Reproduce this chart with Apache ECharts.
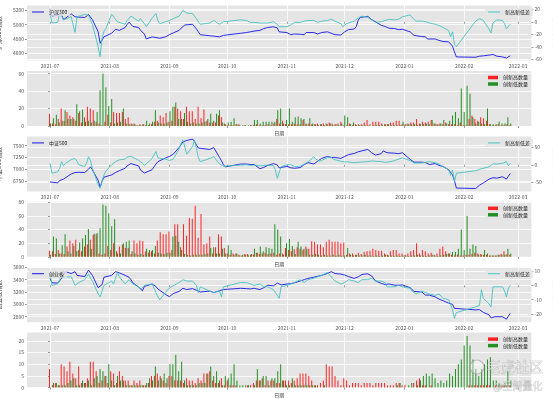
<!DOCTYPE html>
<html>
<head>
<meta charset="utf-8">
<script src="https://cdn.jsdelivr.net/npm/echarts@6/dist/echarts.min.js"></script>
<style>
html, body { margin: 0; padding: 0; background: #fff; }
#chart { width: 553px; height: 399px; }
</style>
</head>
<body>
<div id="chart"></div>
<script>
const FONT = 'Noto Sans CJK SC';

// trading days shown on the x axis
const tradeDays = [
  '2021-07-01','2021-07-02','2021-07-05','2021-07-06','2021-07-07','2021-07-08','2021-07-09','2021-07-12','2021-07-13','2021-07-14','2021-07-15','2021-07-16','2021-07-19','2021-07-20','2021-07-21','2021-07-22','2021-07-23','2021-07-26','2021-07-27','2021-07-28','2021-07-29','2021-07-30',
  '2021-08-02','2021-08-03','2021-08-04','2021-08-05','2021-08-06','2021-08-09','2021-08-10','2021-08-11','2021-08-12','2021-08-13','2021-08-16','2021-08-17','2021-08-18','2021-08-19','2021-08-20','2021-08-23','2021-08-24','2021-08-25','2021-08-26','2021-08-27','2021-08-30','2021-08-31',
  '2021-09-01','2021-09-02','2021-09-03','2021-09-06','2021-09-07','2021-09-08','2021-09-09','2021-09-10','2021-09-13','2021-09-14','2021-09-15','2021-09-16','2021-09-17','2021-09-22','2021-09-23','2021-09-24','2021-09-27','2021-09-28','2021-09-29','2021-09-30',
  '2021-10-08','2021-10-11','2021-10-12','2021-10-13','2021-10-14','2021-10-15','2021-10-18','2021-10-19','2021-10-20','2021-10-21','2021-10-22','2021-10-25','2021-10-26','2021-10-27','2021-10-28','2021-10-29',
  '2021-11-01','2021-11-02','2021-11-03','2021-11-04','2021-11-05','2021-11-08','2021-11-09','2021-11-10','2021-11-11','2021-11-12','2021-11-15','2021-11-16','2021-11-17','2021-11-18','2021-11-19','2021-11-22','2021-11-23','2021-11-24','2021-11-25','2021-11-26','2021-11-29','2021-11-30',
  '2021-12-01','2021-12-02','2021-12-03','2021-12-06','2021-12-07','2021-12-08','2021-12-09','2021-12-10','2021-12-13','2021-12-14','2021-12-15','2021-12-16','2021-12-17','2021-12-20','2021-12-21','2021-12-22','2021-12-23','2021-12-24','2021-12-27','2021-12-28','2021-12-29','2021-12-30','2021-12-31',
  '2022-01-04','2022-01-05','2022-01-06','2022-01-07','2022-01-10','2022-01-11','2022-01-12','2022-01-13','2022-01-14','2022-01-17','2022-01-18','2022-01-19','2022-01-20','2022-01-21','2022-01-24','2022-01-25','2022-01-26','2022-01-27','2022-01-28',
  '2022-02-07','2022-02-08','2022-02-09','2022-02-10','2022-02-11','2022-02-14','2022-02-15','2022-02-16','2022-02-17','2022-02-18','2022-02-21','2022-02-22','2022-02-23','2022-02-24','2022-02-25'
];
const monthTicks = ['2021-07','2021-08','2021-09','2021-10','2021-11','2021-12','2022-01','2022-02','2022-03'];

// 沪深300
const hs300Index = [
  5224,5121,5135,5130,5140,5070,5069,5150,5160,5110,5120,5105,5100,5090,5140,5162,5070,4900,4740,4760,4830,4810,
  4880,4890,4935,4925,4920,4960,5000,5035,5010,4975,4960,4920,4925,4870,4800,4830,4815,4820,4800,4810,4830,4845,
  4860,4875,4885,4920,4950,4970,4995,5010,5005,4990,4940,4900,4860,4845,4850,4840,4830,4845,4850,4860,
  4880,4890,4895,4900,4905,4910,4920,4935,4945,4950,4960,4970,4975,4955,4900,4910,
  4890,4870,4860,4880,4870,4865,4875,4860,4890,4895,4890,4880,4870,4875,4890,4900,4890,4880,4870,4860,4855,4870,
  4900,4910,4930,4940,4970,5060,5100,5110,5115,5090,5070,5075,5040,4990,4970,4975,4965,4950,4945,4935,4930,4925,4935,
  4900,4880,4850,4840,4835,4820,4830,4800,4795,4800,4810,4780,4770,4765,4760,4740,4700,4620,4550,
  4545,4550,4560,4570,4565,4575,4590,4585,4570,4560,4550,4545,4535,4540,4565
];
const hs300Diff = [
  13,-2,-1,15,14,3,1,8,-5,-17,8,5,12,14,10,7,-4,-40,-56,-27,-15,-11,
  12,8,5,0,-2,-4,2,3,9,8,1,5,4,-3,-8,6,9,13,2,-3,0,-1,
  2,4,5,9,12,18,21,14,13,12,5,0,-4,-2,1,2,-4,-3,0,1,
  3,2,0,-1,0,-1,-2,-3,-2,-3,-2,0,1,-4,-8,-6,
  -8,-7,-5,-3,-1,-1,0,1,2,2,2,1,-1,-1,1,2,3,4,4,1,-3,-8,
  -6,-3,-1,1,3,6,8,9,7,4,3,1,-1,0,0,2,3,4,3,2,4,7,8,
  11,7,4,1,1,2,0,-1,-2,-4,-4,-6,-8,-9,-14,-24,-16,-36,-40,
  1,4,5,3,2,-12,-18,-2,-1,3,2,-3,-11,-8,-4
];
const hs300High = [
  14,3,2,8,20,6,16,12,10,6,15,4,10,22,20,18,5,3,1,5,13,4,
  16,15,15,16,8,10,3,3,1,2,2,1,1,2,5,6,12,10,15,5,6,22,
  20,17,8,22,17,17,8,22,9,19,6,4,4,4,12,10,3,1,1,1,
  2,2,0,1,0,1,1,2,1,1,1,2,1,3,8,3,
  6,2,2,2,3,2,2,7,3,3,2,2,3,2,3,3,4,3,2,3,5,1,
  1,3,1,2,2,2,4,7,2,5,5,5,3,2,2,4,4,6,6,2,2,3,4,
  4,8,3,5,4,5,7,3,2,3,2,4,2,2,2,1,4,1,1,
  8,12,8,6,10,9,6,2,1,1,2,1,1,2,1
];
const hs300Low = [
  3,9,13,4,6,18,8,8,8,25,17,19,5,6,4,6,16,41,60,44,23,31,
  3,4,5,20,3,2,2,2,1,1,2,6,3,5,18,4,3,3,4,17,22,27,
  8,8,15,5,3,4,3,3,4,5,8,14,6,14,18,4,2,4,5,9,
  2,1,1,1,1,1,7,7,3,5,5,5,5,5,18,20,
  3,7,20,5,10,11,9,8,2,9,3,2,1,2,1,2,3,1,2,1,3,12,
  10,2,4,1,1,1,1,1,0,1,1,1,1,2,2,1,1,1,1,5,2,2,2,
  2,1,2,2,3,2,7,3,2,3,7,3,6,12,16,9,43,16,46,
  37,10,3,5,3,2,20,2,2,2,5,3,3,10,3
];

// 中证500
const zz500Index = [
  6730,6700,6710,6760,6770,6790,6810,6900,6920,6930,6940,6935,6930,6945,7000,7050,6990,6760,6620,6740,6830,6850,
  6880,6910,6930,6945,6970,7020,7070,7110,7120,7115,7070,6980,6940,6920,6905,6990,7050,7110,7160,7190,7240,7255,
  7270,7300,7320,7460,7520,7580,7600,7610,7640,7590,7520,7450,7410,7420,7440,7460,7250,7180,7100,7050,
  7110,7110,7105,7100,7110,7100,7010,7000,7040,7060,7080,7120,7120,7090,7030,7050,
  7060,7050,7030,7040,7020,7035,7050,7100,7130,7140,7110,7140,7170,7200,7230,7270,7260,7250,7260,7250,7230,7250,
  7270,7300,7310,7335,7350,7370,7360,7390,7420,7440,7350,7380,7300,7330,7390,7410,7350,7320,7340,7320,7330,7340,7350,
  7210,7180,7150,7160,7150,7120,7140,7110,7100,7120,7110,7080,7050,7060,6990,6930,6880,6760,6600,
  6590,6620,6660,6690,6710,6790,6770,6820,6800,6810,6840,6830,6790,6850,6910
];
const zz500Diff = [
  4,-24,-20,-10,9,-3,4,15,19,18,10,0,-5,5,23,12,-10,-57,-67,-47,-29,-18,
  0,4,9,12,14,16,22,27,24,19,13,9,4,-2,-5,18,28,38,20,17,16,12,
  12,14,16,45,60,71,74,30,52,71,47,20,9,18,22,23,2,-1,-4,-2,
  -1,0,-1,-2,0,-1,-3,-5,-2,0,-1,-2,-15,-39,-36,-5,
  0,-4,0,-2,-5,-4,0,2,4,8,23,16,12,10,14,20,24,22,16,14,10,8,
  8,7,8,6,5,7,6,8,9,10,11,12,10,9,8,7,6,8,12,14,16,19,20,
  12,8,5,4,5,6,7,8,9,6,4,2,0,-5,-14,-30,-15,-48,-24,
  -17,-15,-13,-12,-10,-6,-3,3,0,2,4,6,9,-3,4
];
const zz500High = [
  9,8,4,10,5,4,15,24,20,25,10,8,15,18,25,32,33,5,3,5,16,10,
  20,8,15,18,13,13,4,24,20,24,23,8,6,8,5,24,36,33,33,37,10,48,
  48,14,48,31,57,56,75,28,63,18,20,30,5,14,33,30,13,5,3,5,
  5,3,2,4,4,3,3,6,4,5,6,4,5,6,3,5,
  5,13,10,8,11,14,12,10,15,12,23,22,18,18,14,22,25,22,22,22,20,21,
  3,5,5,3,6,4,7,8,9,12,10,9,9,5,3,8,10,10,5,5,3,5,8,
  10,20,5,10,8,5,6,3,5,12,15,8,5,3,2,3,2,2,3,
  3,4,6,5,4,3,3,2,2,2,3,4,8,4,3
];
const zz500Low = [
  3,30,27,5,17,33,8,5,16,8,21,27,32,41,12,34,35,42,77,75,64,45,
  55,5,5,20,22,24,8,5,3,4,3,12,10,10,16,6,5,4,6,6,30,31,
  22,10,4,3,2,3,3,3,3,4,5,13,14,5,5,12,5,17,10,3,
  5,2,3,3,2,4,12,6,15,8,14,13,12,48,40,30,
  3,20,26,16,4,22,15,12,12,3,3,4,3,2,3,2,2,3,2,3,2,2,
  13,3,2,3,2,2,3,2,2,1,2,1,2,3,2,2,1,2,1,2,2,1,2,
  2,3,2,2,1,2,3,2,1,2,3,4,5,7,7,12,40,10,60,
  12,18,16,3,3,10,5,2,2,2,3,3,3,12,5
];

// 创业板
const cybIndex = [
  3420,3350,3345,3350,3420,3470,3530,3500,3490,3530,3470,3450,3450,3475,3555,3550,3470,3270,3245,3320,3440,3460,
  3470,3490,3530,3555,3510,3470,3460,3440,3400,3350,3280,3250,3220,3290,3260,3330,3320,3290,3250,3230,3160,3140,
  3125,3150,3175,3210,3240,3260,3250,3240,3255,3240,3230,3210,3200,3215,3205,3190,3220,3250,3240,3260,
  3260,3255,3260,3250,3255,3260,3240,3210,3270,3300,3310,3300,3330,3345,3320,3315,
  3330,3340,3335,3345,3350,3380,3385,3400,3415,3420,3440,3450,3455,3460,3470,3500,3515,3530,3520,3500,3490,3480,
  3475,3460,3450,3420,3430,3445,3470,3485,3495,3490,3460,3430,3380,3340,3330,3320,3325,3330,3310,3300,3310,3315,3314,
  3270,3240,3210,3190,3200,3170,3150,3145,3150,3120,3100,3085,3090,3060,3020,2990,3000,2935,2915,
  2910,2905,2915,2890,2870,2830,2780,2790,2800,2805,2800,2790,2760,2810,2855
];
const cybDiff = [
  9,0,1,4,9,6,7,6,7,0,1,2,4,6,8,5,3,-6,-8,-4,0,1,
  3,1,5,9,6,1,2,4,3,1,-1,-3,-2,0,1,1,-2,-5,-8,-10,-5,-3,
  -3,-1,0,2,3,4,3,3,3,2,0,-5,-1,-4,-5,-5,-4,-8,-1,0,
  2,2,1,1,1,0,1,0,-1,-1,-1,-3,-4,-7,-9,-1,
  0,1,1,2,2,4,5,2,3,4,5,5,6,6,7,9,8,6,5,3,1,2,
  2,3,4,3,3,2,3,4,4,5,5,4,3,3,2,2,-1,-2,-1,0,0,-1,-1,
  -2,-4,-5,-6,-4,-3,-5,-5,-6,-7,-6,-6,-7,-9,-10,-11,-17,-23,-19,
  -15,-14,-14,-3,-9,-13,-15,-1,-1,-1,-1,-4,-8,-2,0
];
const cybHigh = [
  8,1,2,1,10,9,7,11,6,4,9,2,2,4,11,11,7,2,3,5,2,7,
  6,2,7,5,3,3,1,3,2,3,1,1,2,5,5,6,5,3,2,5,5,3,
  3,3,2,4,3,3,2,4,3,6,6,7,3,2,2,4,1,3,1,1,
  1,0,0,0,1,1,2,3,3,4,1,3,3,3,2,2,
  3,3,3,2,3,4,6,6,6,5,3,1,1,2,3,10,9,9,5,3,1,4,
  3,1,2,2,2,1,2,2,2,1,2,2,2,2,1,1,1,2,2,1,1,0,0,
  2,3,4,1,1,0,1,0,0,0,0,0,0,0,0,0,0,0,0,
  1,1,1,1,1,1,1,1,0,1,1,1,1,1,1
];
const cybLow = [
  0,2,2,1,1,1,2,3,4,1,1,3,2,3,1,4,5,8,7,5,10,3,
  1,5,3,3,1,1,1,1,1,1,1,2,4,3,9,3,4,6,4,10,10,14,
  7,11,3,1,1,1,1,2,2,2,6,9,5,7,3,1,5,4,6,10,
  3,1,1,1,1,0,1,8,3,5,5,1,4,4,7,10,
  3,1,1,4,1,1,1,1,1,1,1,1,0,0,1,0,0,0,0,0,0,0,
  0,0,0,0,0,0,0,0,0,0,0,0,0,0,0,0,0,1,2,0,0,1,2,
  0,1,3,5,6,5,6,4,2,3,2,3,6,5,8,10,12,18,22,
  18,12,8,5,8,10,12,13,3,3,2,1,2,7,3
];

const BLUE = '#1515e6';
const CYAN = '#45c4c0';
const RED = '#ff0000';
const GREEN = '#008000';

const chart = echarts.init(document.getElementById('chart'));

const panelTop = [5.5, 71, 136.4, 201.8, 267.2, 332.6];
const toTs = s => {
  const p = s.split('-').map(Number);
  return new Date(p[0], p[1] - 1, p[2] || 1).getTime();
};
// date axis of the line panels
const xMin = new Date(2021, 5, 19, 1).getTime();
const xMax = new Date(2022, 2, 7, 23).getTime();
const monthValues = monthTicks.map(toTs);
const dayTs = tradeDays.map(toTs);
const pairDate = arr => dayTs.map((t, k) => [t, arr[k]]);

// bar panels: one slot per trading day, first and last day lined up with the date axis
const frac = t => (t - xMin) / (xMax - xMin);
const slotScale = (tradeDays.length - 1) / (frac(dayTs[dayTs.length - 1]) - frac(dayTs[0]));
const slotMin = -slotScale * frac(dayTs[0]);
const slotMax = slotMin + slotScale;
const monthSlots = monthValues.map(t => slotMin + slotScale * frac(t));
const pairSlot = arr => arr.map((v, k) => [k, v]);

const labelStyle = { fontFamily: FONT, fontSize: 5, color: '#555' };
const tickStyle = { show: true, length: 2, lineStyle: { color: '#555', width: 0.6 } };
const gridLine = { show: true, lineStyle: { color: '#fff', width: 0.8 } };

function dateAxis(i) {
  return {
    type: 'value', gridIndex: i, min: xMin, max: xMax, scale: true,
    axisLine: { show: false },
    axisTick: { ...tickStyle, customValues: monthValues },
    axisLabel: {
      customValues: monthValues, margin: 3, ...labelStyle,
      formatter: v => {
        const d = new Date(v);
        return d.getFullYear() + '-' + String(d.getMonth() + 1).padStart(2, '0');
      }
    },
    splitLine: gridLine
  };
}
function slotAxis(i) {
  return {
    type: 'value', gridIndex: i, min: slotMin, max: slotMax, scale: true,
    axisLine: { show: false },
    axisTick: { ...tickStyle, customValues: monthSlots },
    axisLabel: { show: false, customValues: monthSlots },
    splitLine: gridLine,
    name: '日期', nameLocation: 'middle', nameGap: 5,
    nameTextStyle: { fontFamily: FONT, fontSize: 5, color: '#444' }
  };
}

function makeY(i, range, ticks, side, name, gap) {
  return {
    type: 'value', gridIndex: i, position: side, min: range[0], max: range[1],
    axisLine: { show: false },
    axisTick: { ...tickStyle, customValues: ticks },
    axisLabel: { ...labelStyle, customValues: ticks, margin: 3, formatter: v => String(v) },
    splitLine: gridLine,
    name: name, nameLocation: 'middle', nameGap: gap, nameRotate: 90,
    nameTextStyle: { fontFamily: FONT, fontSize: 6, color: '#333' }
  };
}

const legendBase = {
  orient: 'vertical', padding: [1.5, 3], itemGap: 1.5, selectedMode: false,
  backgroundColor: 'rgba(229,229,229,0.8)',
  textStyle: { fontFamily: FONT, fontSize: 5, color: '#222' }
};
function lineLegends(i, indexName) {
  return [
    { ...legendBase, data: [indexName], left: 29, top: panelTop[i] + 2.5, icon: 'rect', itemWidth: 12, itemHeight: 1 },
    { ...legendBase, data: ['新高新低差'], left: 485, top: panelTop[i] + 2.5, icon: 'rect', itemWidth: 12, itemHeight: 1 }
  ];
}
function barLegend(i) {
  return { ...legendBase, data: ['创新高数量', '创新低数量'], left: 485, top: panelTop[i] + 2.5, icon: 'rect', itemWidth: 10, itemHeight: 3.5 };
}

function lineSeries(name, x, y, arr, color, z) {
  return {
    name: name, type: 'line', xAxisIndex: x, yAxisIndex: y, data: pairDate(arr),
    showSymbol: false, symbol: 'none', z: z,
    lineStyle: { width: 0.9, color: color }, itemStyle: { color: color },
    emphasis: { disabled: true }
  };
}
function barSeries(name, x, y, arr, color) {
  return {
    name: name, type: 'bar', xAxisIndex: x, yAxisIndex: y, data: pairSlot(arr),
    barWidth: 1, barGap: '0%', itemStyle: { color: color, opacity: 0.85 },
    emphasis: { disabled: true }
  };
}

chart.setOption({
  animation: false,
  backgroundColor: '#fff',
  textStyle: { fontFamily: FONT },
  grid: panelTop.map(t => ({
    left: 27, right: 21.6, top: t, height: 55, outerBoundsMode: 'none',
    show: true, backgroundColor: '#e5e5e5', borderWidth: 0
  })),
  xAxis: [0, 1, 2, 3, 4, 5].map(i => (i % 2 === 0 ? dateAxis(i) : slotAxis(i))),
  yAxis: [
    makeY(0, [4500, 5267], [4600, 4800, 5000, 5200], 'left', '沪深300指数', 13),
    makeY(0, [-62, 26], [-60, -40, -20, 0, 20], 'right', '新高新低差', 10),
    makeY(1, [0, 63], [0, 20, 40, 60], 'left', '', 0),
    makeY(2, [6529, 7697], [6750, 7000, 7250, 7500], 'left', '中证500指数', 13),
    makeY(2, [-76, 81], [-50, 0, 50], 'right', '新高新低差', 10),
    makeY(3, [0, 80.8], [0, 20, 40, 60, 80], 'left', '', 0),
    makeY(4, [2711, 3602], [2800, 3000, 3200, 3400, 3600], 'left', '创业板指数', 13),
    makeY(4, [-25.7, 12.7], [-20, -10, 0, 10], 'right', '新高新低差', 10),
    makeY(5, [0, 23.5], [0, 5, 10, 15, 20], 'left', '', 0)
  ],
  legend: [
    ...lineLegends(0, '沪深300'),
    barLegend(1),
    ...lineLegends(2, '中证500'),
    barLegend(3),
    ...lineLegends(4, '创业板'),
    barLegend(5)
  ],
  series: [
    lineSeries('沪深300', 0, 0, hs300Index, BLUE, 2),
    lineSeries('新高新低差', 0, 1, hs300Diff, CYAN, 3),
    barSeries('创新高数量', 1, 2, hs300High, RED),
    barSeries('创新低数量', 1, 2, hs300Low, GREEN),
    lineSeries('中证500', 2, 3, zz500Index, BLUE, 2),
    lineSeries('新高新低差', 2, 4, zz500Diff, CYAN, 3),
    barSeries('创新高数量', 3, 5, zz500High, RED),
    barSeries('创新低数量', 3, 5, zz500Low, GREEN),
    lineSeries('创业板', 4, 6, cybIndex, BLUE, 2),
    lineSeries('新高新低差', 4, 7, cybDiff, CYAN, 3),
    barSeries('创新高数量', 5, 8, cybHigh, RED),
    barSeries('创新低数量', 5, 8, cybLow, GREEN)
  ],
  graphic: [
    { type: 'circle', shape: { cx: 477, cy: 367, r: 7 }, style: { fill: 'rgba(255,255,255,0.35)', stroke: 'rgba(150,150,150,0.55)', lineWidth: 1.2 }, z: 100 },
    { type: 'text', x: 487, y: 367, style: { text: '老虎社区', fontFamily: FONT, fontSize: 14, verticalAlign: 'middle', fill: 'rgba(255,255,255,0.5)', stroke: 'rgba(140,140,140,0.6)', lineWidth: 0.6 }, z: 100 },
    { type: 'text', x: 493, y: 386, style: { text: '@至简量化', fontFamily: FONT, fontSize: 10, verticalAlign: 'middle', fill: 'rgba(255,255,255,0.5)', stroke: 'rgba(140,140,140,0.6)', lineWidth: 0.5 }, z: 100 }
  ]
});
</script>
</body>
</html>
